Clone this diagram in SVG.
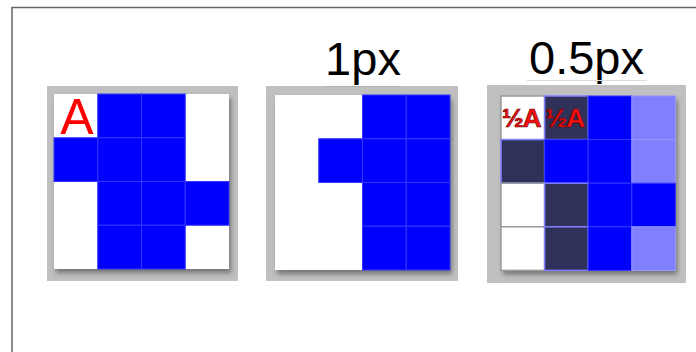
<svg xmlns="http://www.w3.org/2000/svg" width="696" height="352" viewBox="0 0 696 352">
<defs>
<style>
.frame{fill:#c0c0c0}
.inner{fill:#ffffff}
.b{fill:#0000ff;stroke:#3535ff;stroke-width:1}
.lb{fill:#8080ff;stroke:#9494ff;stroke-width:1}
.dk{fill:#2f3158;stroke:#8080ff;stroke-width:1.5}
.wg{fill:#ffffff;stroke:#9a9a9a;stroke-width:1.5}
.lbl{font-family:"Liberation Sans",Arial,sans-serif;font-size:47px;fill:#000;text-anchor:middle}
.half{font-family:"Liberation Sans",Arial,sans-serif;font-size:26px;font-weight:bold;fill:#ff1010;stroke:#6a0000;stroke-width:0.7;letter-spacing:-1px}
</style>
<filter id="sh" x="-10%" y="-10%" width="130%" height="130%">
<feDropShadow dx="2" dy="4" stdDeviation="2.5" flood-color="#404040" flood-opacity="0.6"/>
</filter>
</defs>
<rect width="696" height="352" fill="#ffffff"/>
<path d="M12,352 V7.5 H696" fill="none" stroke="#666666" stroke-width="1.5"/>

<g id="frame-original">
<rect class="frame" x="47" y="86" width="191" height="195"/>
<rect class="inner" x="54" y="94" width="175" height="175" filter="url(#sh)"/>
<rect class="b" x="97.75" y="94" width="43.75" height="43.75"/>
<rect class="b" x="141.5" y="94" width="43.75" height="43.75"/>
<rect class="b" x="54" y="137.75" width="43.75" height="43.75"/>
<rect class="b" x="97.75" y="137.75" width="43.75" height="43.75"/>
<rect class="b" x="141.5" y="137.75" width="43.75" height="43.75"/>
<rect class="b" x="97.75" y="181.5" width="43.75" height="43.75"/>
<rect class="b" x="141.5" y="181.5" width="43.75" height="43.75"/>
<rect class="b" x="185.25" y="181.5" width="43.75" height="43.75"/>
<rect class="b" x="97.75" y="225.25" width="43.75" height="43.75"/>
<rect class="b" x="141.5" y="225.25" width="43.75" height="43.75"/>
<text x="77" y="134" font-family="'Liberation Sans',Arial,sans-serif" font-size="50" fill="#ff0000" text-anchor="middle">A</text>
</g>

<g id="frame-1px">
<text class="lbl" x="363" y="75">1px</text>
<rect class="frame" x="266" y="86" width="192" height="195"/>
<line x1="326" y1="86.5" x2="400" y2="86.5" stroke="#b0b0b0" stroke-width="1"/>
<rect class="inner" x="275" y="95" width="175" height="175" filter="url(#sh)"/>
<rect class="b" x="362.5" y="95" width="43.75" height="43.75"/>
<rect class="b" x="406.25" y="95" width="43.75" height="43.75"/>
<rect class="b" x="318.75" y="138.75" width="43.75" height="43.75"/>
<rect class="b" x="362.5" y="138.75" width="43.75" height="43.75"/>
<rect class="b" x="406.25" y="138.75" width="43.75" height="43.75"/>
<rect class="b" x="362.5" y="182.5" width="43.75" height="43.75"/>
<rect class="b" x="406.25" y="182.5" width="43.75" height="43.75"/>
<rect class="b" x="362.5" y="226.25" width="43.75" height="43.75"/>
<rect class="b" x="406.25" y="226.25" width="43.75" height="43.75"/>
</g>

<g id="frame-0-5px">
<text class="lbl" x="586.5" y="74">0.5px</text>
<line x1="527" y1="80.5" x2="647" y2="80.5" stroke="#dcdcdc" stroke-width="1"/>
<rect class="frame" x="487" y="85" width="199" height="198"/>
<rect class="inner" x="501" y="96" width="174.4" height="174.4" filter="url(#sh)"/>
<rect class="wg" x="501" y="96" width="43.6" height="43.6"/>
<rect class="dk" x="544.6" y="96" width="43.6" height="43.6"/>
<rect class="b" x="588.2" y="96" width="43.6" height="43.6"/>
<rect class="lb" x="631.8" y="96" width="43.6" height="43.6"/>
<rect class="dk" x="501" y="139.6" width="43.6" height="43.6"/>
<rect class="b" x="544.6" y="139.6" width="43.6" height="43.6"/>
<rect class="b" x="588.2" y="139.6" width="43.6" height="43.6"/>
<rect class="lb" x="631.8" y="139.6" width="43.6" height="43.6"/>
<rect class="wg" x="501" y="183.2" width="43.6" height="43.6"/>
<rect class="dk" x="544.6" y="183.2" width="43.6" height="43.6"/>
<rect class="b" x="588.2" y="183.2" width="43.6" height="43.6"/>
<rect class="b" x="631.8" y="183.2" width="43.6" height="43.6"/>
<rect class="wg" x="501" y="226.8" width="43.6" height="43.6"/>
<rect class="dk" x="544.6" y="226.8" width="43.6" height="43.6"/>
<rect class="b" x="588.2" y="226.8" width="43.6" height="43.6"/>
<rect class="lb" x="631.8" y="226.8" width="43.6" height="43.6"/>
<text class="half" x="502" y="127">½A</text>
<text class="half" x="545.5" y="127">½A</text>
</g>
<g id="connectors"/>
</svg>
